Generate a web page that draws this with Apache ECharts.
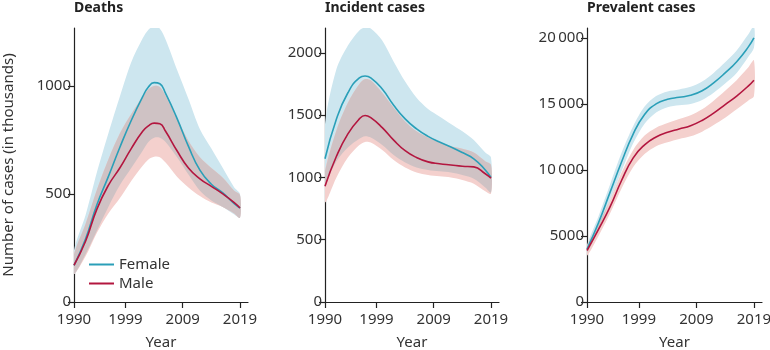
<!DOCTYPE html>
<html>
<head>
<meta charset="utf-8">
<script src="https://cdn.jsdelivr.net/npm/echarts@6/dist/echarts.min.js"></script>
<style>
  html, body { margin: 0; padding: 0; background: #fff; }
  #chart { width: 770px; height: 350px; }
</style>
</head>
<body>
<div id="chart"></div>
<script>
// Deaths (thousands)
var deathYears     = [1990, 1992, 1994, 1996, 1998, 2000, 2002, 2003, 2004, 2005, 2006, 2008, 2010, 2012, 2014, 2016, 2018, 2019];
var deathFemale    = [170, 290, 450, 580, 715, 840, 950, 995, 1015, 1010, 965, 850, 720, 610, 545, 505, 455, 435];
var deathFemaleLo  = [130, 220, 330, 440, 540, 620, 700, 740, 760, 760, 740, 670, 590, 515, 470, 440, 405, 390];
var deathFemaleHi  = [240, 400, 600, 780, 950, 1110, 1220, 1260, 1275, 1265, 1215, 1075, 940, 800, 710, 620, 530, 500];
var deathMale      = [170, 280, 430, 540, 620, 710, 790, 815, 828, 825, 790, 700, 620, 570, 535, 500, 460, 435];
var deathMaleLo    = [130, 210, 320, 410, 480, 560, 630, 660, 672, 670, 645, 580, 530, 490, 460, 440, 410, 390];
var deathMaleHi    = [220, 360, 520, 660, 780, 870, 950, 985, 1000, 995, 955, 850, 745, 670, 620, 575, 515, 495];

// Incident cases (thousands)
var incYears       = [1990, 1992, 1994, 1996, 1997, 1998, 2000, 2002, 2004, 2006, 2008, 2010, 2012, 2014, 2016, 2018, 2019];
var incFemale      = [1150, 1470, 1680, 1800, 1814, 1800, 1710, 1580, 1470, 1390, 1330, 1285, 1245, 1200, 1150, 1060, 1000];
var incFemaleLo    = [950, 1130, 1240, 1310, 1330, 1320, 1260, 1180, 1120, 1080, 1060, 1050, 1040, 1020, 990, 920, 880];
var incFemaleHi    = [1430, 1870, 2060, 2180, 2205, 2195, 2100, 1930, 1770, 1640, 1550, 1490, 1430, 1370, 1300, 1200, 1160];
var incMale        = [930, 1170, 1350, 1470, 1498, 1480, 1400, 1300, 1215, 1160, 1125, 1110, 1100, 1090, 1085, 1030, 995];
var incMaleLo      = [800, 1000, 1160, 1260, 1285, 1280, 1220, 1140, 1080, 1040, 1020, 1010, 1000, 980, 950, 890, 870];
var incMaleHi      = [1050, 1380, 1600, 1750, 1790, 1780, 1680, 1560, 1450, 1370, 1320, 1280, 1250, 1230, 1200, 1130, 1100];

// Prevalent cases (thousands)
var prevYears      = [1990, 1992, 1994, 1996, 1998, 2000, 2002, 2004, 2006, 2008, 2010, 2012, 2014, 2016, 2018, 2019];
var prevFemale     = [4000, 6000, 8300, 10600, 12700, 14200, 15000, 15350, 15500, 15650, 16000, 16600, 17350, 18200, 19300, 20000];
var prevFemaleLo   = [3700, 5500, 7700, 9900, 12000, 13500, 14350, 14750, 14900, 15000, 15300, 15850, 16550, 17350, 18550, 19250];
var prevFemaleHi   = [4300, 6500, 8900, 11300, 13300, 14800, 15600, 15950, 16100, 16300, 16700, 17350, 18150, 19050, 20250, 20900];
var prevMale       = [3900, 5500, 7200, 9200, 10900, 11900, 12500, 12850, 13100, 13350, 13750, 14300, 14950, 15600, 16350, 16800];
var prevMaleLo     = [3500, 5000, 6700, 8600, 10200, 11200, 11800, 12100, 12350, 12550, 12900, 13400, 13950, 14600, 15250, 15600];
var prevMaleHi     = [4200, 5900, 7700, 9800, 11500, 12600, 13200, 13550, 13850, 14150, 14600, 15250, 16000, 16800, 17750, 18300];

var yearTicks = [1990, 1999, 2009, 2019];
var deathTicks = [0, 500, 1000];
var incTicks = [0, 500, 1000, 1500, 2000];
var prevTicks = [0, 5000, 10000, 15000, 20000];
var panelTitles = ['Deaths', 'Incident cases', 'Prevalent cases'];

var FONT = 'Noto Sans';
var TEXT = '#333';
var FEMALE = '#2a9fb8';
var MALE = '#b3163f';
var FEMALE_BAND = '#cde6ef';
var MALE_BAND = '#f4d0cd';
var BOTH_BAND = '#cfc2c4';

function pairs(xs, ys) {
    return xs.map(function (x, i) { return [x, ys[i]]; });
}

function band(idx, xs, lo, hi, color, z) {
    return {
        type: 'custom',
        xAxisIndex: idx,
        yAxisIndex: idx,
        clip: true,
        silent: true,
        z: z,
        data: [[xs[0], lo[0]]],
        renderItem: function (params, api) {
            var pts = [];
            for (var i = 0; i < xs.length; i++) pts.push(api.coord([xs[i], hi[i]]));
            for (var j = xs.length - 1; j >= 0; j--) pts.push(api.coord([xs[j], lo[j]]));
            return {
                type: 'polygon',
                shape: { points: pts, smooth: 0.3 },
                style: { fill: color }
            };
        }
    };
}

// where the two uncertainty bands overlap
function overlap(idx, xs, loA, hiA, loB, hiB) {
    var lo = [], hi = [];
    xs.forEach(function (x, i) {
        var a = Math.max(loA[i], loB[i]), b = Math.min(hiA[i], hiB[i]);
        if (b < a) { a = b = (a + b) / 2; }
        lo.push(a); hi.push(b);
    });
    return band(idx, xs, lo, hi, BOTH_BAND, 2);
}

function line(idx, name, xs, ys, color) {
    return {
        type: 'line',
        name: name,
        xAxisIndex: idx,
        yAxisIndex: idx,
        smooth: true,
        symbol: 'none',
        z: 3,
        lineStyle: { color: color, width: 1.6 },
        itemStyle: { color: color },
        data: pairs(xs, ys)
    };
}

var grids = [
    { left: 74, top: 28, width: 174, height: 274, outerBoundsMode: 'none', containLabel: false },
    { left: 325, top: 28, width: 174, height: 274, outerBoundsMode: 'none', containLabel: false },
    { left: 587, top: 28, width: 175, height: 274, outerBoundsMode: 'none', containLabel: false }
];
var yMax = [1268, 2200, 20750];
var yTicks = [deathTicks, incTicks, prevTicks];

var axisLine = { show: true, onZero: false, lineStyle: { color: '#222', width: 1.2 } };

var xAxes = grids.map(function (g, i) {
    return {
        type: 'value',
        gridIndex: i,
        min: 1990,
        max: 2020.4,
        name: 'Year',
        nameLocation: 'middle',
        nameGap: 33,
        nameTextStyle: { fontFamily: FONT, fontSize: 15, color: TEXT },
        axisLine: axisLine,
        axisTick: { show: true, length: 6, customValues: yearTicks, lineStyle: { color: '#222', width: 1.2 } },
        axisLabel: {
            customValues: yearTicks, margin: 10, fontFamily: FONT, fontSize: 15, color: TEXT,
            formatter: function (v) { return String(v); }
        },
        splitLine: { show: false }
    };
});

var yAxes = grids.map(function (g, i) {
    return {
        type: 'value',
        gridIndex: i,
        min: 0,
        max: yMax[i],
        name: i === 0 ? 'Number of cases (in thousands)' : '',
        nameLocation: 'middle',
        nameGap: 58,
        nameTextStyle: { fontFamily: FONT, fontSize: 15, color: TEXT },
        axisLine: axisLine,
        axisTick: { show: true, length: 6, customValues: yTicks[i], lineStyle: { color: '#222', width: 1.2 } },
        axisLabel: {
            customValues: yTicks[i],
            margin: 3,
            fontFamily: FONT,
            fontSize: 15,
            color: TEXT,
            formatter: function (v) {
                return v >= 10000 ? String(v).replace(/(\d)(?=(\d{3})+$)/g, '$1\u2009') : String(v);
            }
        },
        splitLine: { show: false }
    };
});

var series = [
    band(0, deathYears, deathFemaleLo, deathFemaleHi, FEMALE_BAND, 1),
    band(0, deathYears, deathMaleLo, deathMaleHi, MALE_BAND, 1),
    overlap(0, deathYears, deathFemaleLo, deathFemaleHi, deathMaleLo, deathMaleHi),
    band(1, incYears, incFemaleLo, incFemaleHi, FEMALE_BAND, 1),
    band(1, incYears, incMaleLo, incMaleHi, MALE_BAND, 1),
    overlap(1, incYears, incFemaleLo, incFemaleHi, incMaleLo, incMaleHi),
    band(2, prevYears, prevFemaleLo, prevFemaleHi, FEMALE_BAND, 1),
    band(2, prevYears, prevMaleLo, prevMaleHi, MALE_BAND, 1),
    overlap(2, prevYears, prevFemaleLo, prevFemaleHi, prevMaleLo, prevMaleHi),
    line(0, 'Female', deathYears, deathFemale, FEMALE),
    line(0, 'Male', deathYears, deathMale, MALE),
    line(1, 'Female', incYears, incFemale, FEMALE),
    line(1, 'Male', incYears, incMale, MALE),
    line(2, 'Female', prevYears, prevFemale, FEMALE),
    line(2, 'Male', prevYears, prevMale, MALE)
];

var chart = echarts.init(document.getElementById('chart'));
chart.setOption({
    animation: false,
    backgroundColor: '#fff',
    title: panelTitles.map(function (t, i) {
        return {
            text: t,
            left: grids[i].left,
            top: 1,
            padding: 0,
            textStyle: { fontFamily: FONT, fontSize: 14, fontWeight: 'bold', color: '#222' }
        };
    }),
    legend: {
        data: ['Female', 'Male'],
        orient: 'vertical',
        left: 89,
        top: 257,
        padding: 0,
        itemWidth: 25,
        itemHeight: 2,
        itemGap: 4,
        icon: 'rect',
        textStyle: { fontFamily: FONT, fontSize: 15, color: TEXT }
    },
    grid: grids,
    xAxis: xAxes,
    yAxis: yAxes,
    series: series
});
</script>
</body>
</html>
